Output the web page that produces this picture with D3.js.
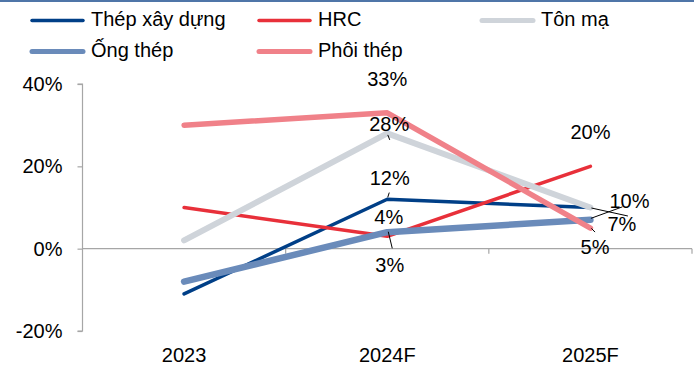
<!DOCTYPE html>
<html>
<head>
<meta charset="utf-8">
<script src="https://cdn.jsdelivr.net/npm/d3@7"></script>
<style>
  html, body { margin: 0; padding: 0; background: #fff; }
  svg { display: block; font-family: "Liberation Sans", Arial, sans-serif; }
</style>
</head>
<body>
<svg id="chart" width="694" height="365"></svg>
<script>
// Growth rates by product group (%)
const categories = ["2023", "2024F", "2025F"];
const seriesNames = ["Thép xây dựng", "HRC", "Tôn mạ", "Ống thép", "Phôi thép"];
const thepXayDung = [-11, 12, 10];
const hrc = [10, 3, 20];
const tonMa = [2, 28, 10];
const ongThep = [-8, 4, 7];
const phoiThep = [30, 33, 5];
const yTicks = [-20, 0, 20, 40];

const seriesValues = [thepXayDung, hrc, tonMa, ongThep, phoiThep];
const seriesStyle = [
  { color: "#003f87", width: 3.5 },
  { color: "#e8303a", width: 3.5 },
  { color: "#cfd4da", width: 6 },
  { color: "#6a8bba", width: 6.5 },
  { color: "#f08189", width: 5.5 }
];

// Data labels: which series/category, label offset from the point, optional leader segment
const labelSpecs = [
  { s: 4, i: 1, dx: 0, dy: -27 },
  { s: 2, i: 1, dx: 2, dy: -2.5, lead: [[0.5, 1.5], [2.5, 6.5]] },
  { s: 0, i: 1, dx: 2.5, dy: -14.5, lead: [[2, -6.7], [0.5, -2]] },
  { s: 3, i: 1, dx: 1.5, dy: -8.5 },
  { s: 1, i: 1, dx: 2.5, dy: 35.5, lead: [[1, -4.6], [5, 12]] },
  { s: 1, i: 2, dx: 0, dy: -27.3 },
  { s: 0, i: 2, dx: 39, dy: 0.3, lead: [[1, 0.5], [37.5, 8.5]] },
  { s: 3, i: 2, dx: 31.5, dy: 10.7, lead: [[0.5, -1.5], [32, -13]] },
  { s: 4, i: 2, dx: 4.6, dy: 25.7, lead: [[1, 0.3], [4.6, 4]] }
];

const svg = d3.select("#chart");

// Thin rule along the top edge
svg.append("rect").attr("x", 0).attr("y", 0).attr("width", 694).attr("height", 2)
  .attr("fill", "#4f75a8");

const x = d3.scaleBand().domain(categories).range([82.5, 692]);
const y = d3.scaleLinear().domain([-20, 40]).range([331, 84]);
const cx = c => x(c) + x.bandwidth() / 2;

// Y axis
const yAxis = svg.append("g").attr("transform", "translate(82.5,0)")
  .call(d3.axisLeft(y).tickValues(yTicks).tickFormat(d => d + "%").tickSize(5).tickPadding(15));
yAxis.selectAll("path, line").attr("stroke", "#a6a6a6").attr("stroke-width", 1.2);
yAxis.select(".domain").attr("d", `M-5,${y(40)}H0V${y(-20)}H-5`);
yAxis.selectAll("text").attr("font-size", 20).attr("fill", "#000")
  .attr("font-family", "'Liberation Sans', Arial, sans-serif");

// Zero line with category boundary ticks
const zero = svg.append("g").attr("transform", `translate(0,${y(0)})`);
zero.append("line").attr("x1", x.range()[0]).attr("x2", x.range()[1])
  .attr("stroke", "#a6a6a6").attr("stroke-width", 1.2);
zero.selectAll("line.b").data(categories).join("line").attr("class", "b")
  .attr("x1", d => x(d) + x.bandwidth()).attr("x2", d => x(d) + x.bandwidth())
  .attr("y1", 0).attr("y2", 5).attr("stroke", "#a6a6a6").attr("stroke-width", 1.2);

// Category labels below the plot
const xAxis = svg.append("g").attr("transform", `translate(0,${y(-20)})`)
  .call(d3.axisBottom(x).tickSize(0).tickPadding(16.8));
xAxis.select(".domain").remove();
xAxis.selectAll("text").attr("font-size", 20).attr("fill", "#000")
  .attr("font-family", "'Liberation Sans', Arial, sans-serif");

// Series lines
const line = d3.line().x((d, i) => cx(categories[i])).y(d => y(d));
svg.append("g").selectAll("path").data(seriesValues).join("path")
  .attr("d", d => line(d))
  .attr("fill", "none")
  .attr("stroke", (d, i) => seriesStyle[i].color)
  .attr("stroke-width", (d, i) => seriesStyle[i].width)
  .attr("stroke-linecap", "round")
  .attr("stroke-linejoin", "round");

// Data labels and leader lines
const lbl = svg.append("g");
labelSpecs.forEach(sp => {
  const v = seriesValues[sp.s][sp.i];
  const px = cx(categories[sp.i]), py = y(v);
  if (sp.lead) {
    lbl.append("line")
      .attr("x1", px + sp.lead[0][0]).attr("y1", py + sp.lead[0][1])
      .attr("x2", px + sp.lead[1][0]).attr("y2", py + sp.lead[1][1])
      .attr("stroke", "#000").attr("stroke-width", 1);
  }
  lbl.append("text").attr("x", px + sp.dx).attr("y", py + sp.dy)
    .attr("text-anchor", "middle").attr("font-size", 20).attr("fill", "#000")
    .text(v + "%");
});

// Legend
const legendPos = [
  { lx: 30, ty: 20.5 }, { lx: 257, ty: 20.5 }, { lx: 480, ty: 20.5 },
  { lx: 30, ty: 51.5 }, { lx: 257, ty: 51.5 }
];
const leg = svg.append("g").selectAll("g").data(seriesNames).join("g")
  .attr("transform", (d, i) => `translate(${legendPos[i].lx},${legendPos[i].ty})`);
leg.append("line").attr("x1", 2).attr("x2", 53).attr("y1", 0).attr("y2", 0)
  .attr("stroke", (d, i) => seriesStyle[i].color)
  .attr("stroke-width", (d, i) => Math.min(seriesStyle[i].width, 5))
  .attr("stroke-linecap", "round");
leg.append("text").attr("x", 61).attr("y", 5).attr("font-size", 20).attr("fill", "#000")
  .text(d => d);
</script>
</body>
</html>
